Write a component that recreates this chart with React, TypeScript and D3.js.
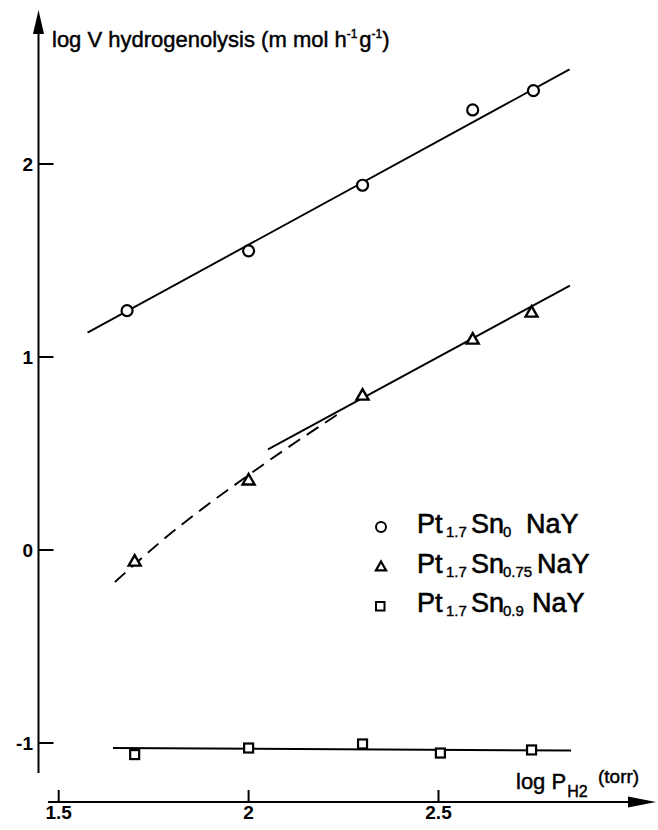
import React from 'react';
import * as d3 from 'd3';

const W = 658;
const H = 830;

// Axis ticks
const xTicks = [1.5, 2, 2.5];
const xTickLabels = ['1.5', '2', '2.5'];
const yTicks = [2, 1, 0, -1];
const yTickLabels = ['2', '1', '0', '-1'];

// Series: Pt1.7 Sn0 NaY (circles)
const sn0X = [1.68, 2.0, 2.3, 2.59, 2.75];
const sn0Y = [1.24, 1.55, 1.89, 2.28, 2.38];
// Series: Pt1.7 Sn0.75 NaY (triangles)
const sn075X = [1.7, 2.0, 2.3, 2.59, 2.745];
const sn075Y = [-0.06, 0.36, 0.8, 1.09, 1.23];
// Series: Pt1.7 Sn0.9 NaY (squares)
const sn09X = [1.7, 2.0, 2.3, 2.505, 2.745];
const sn09Y = [-1.06, -1.026, -1.005, -1.052, -1.036];

// Fitted lines
const sn0FitX = [1.576, 2.845];
const sn0FitY = [1.126, 2.49];
const sn075FitX = [2.051, 2.846];
const sn075FitY = [0.521, 1.37];
const sn075DashX = [1.648, 1.774, 2.011, 2.24];
const sn075DashY = [-0.166, 0.052, 0.404, 0.71];
const sn09FitX = [1.643, 2.849];
const sn09FitY = [-1.026, -1.039];

const FONT = '"Liberation Sans", Arial, Helvetica, sans-serif';

export default function App() {
  const x = d3.scaleLinear().domain([1.5, 2.5]).range([58.7, 438.5]);
  const y = d3.scaleLinear().domain([-1, 2]).range([743, 164]);

  const zip = (xs: number[], ys: number[]) => xs.map((v, i) => [v, ys[i]] as [number, number]);
  const line = d3.line<[number, number]>().x(d => x(d[0])).y(d => y(d[1]));
  const curve = d3.line<[number, number]>().x(d => x(d[0])).y(d => y(d[1])).curve(d3.curveMonotoneX);

  const axisX = 38.5;
  const axisY = 802;

  const tri = (cx: number, cy: number, s = 1) =>
    `M${cx},${cy - 6.5 * s}L${cx + 6 * s},${cy + 4 * s}L${cx - 6 * s},${cy + 4 * s}Z`;

  const legend = [
    { marker: 'circle', y: 533, parts: [
      { t: 'Pt', x: 417, sub: false }, { t: '1.7', x: 446, sub: true },
      { t: 'Sn', x: 471, sub: false }, { t: '0', x: 503, sub: true },
      { t: 'NaY', x: 526, sub: false }] },
    { marker: 'triangle', y: 573, parts: [
      { t: 'Pt', x: 417, sub: false }, { t: '1.7', x: 446, sub: true },
      { t: 'Sn', x: 471, sub: false }, { t: '0.75', x: 503, sub: true },
      { t: 'NaY', x: 537, sub: false }] },
    { marker: 'square', y: 612, parts: [
      { t: 'Pt', x: 417, sub: false }, { t: '1.7', x: 446, sub: true },
      { t: 'Sn', x: 471, sub: false }, { t: '0.9', x: 503, sub: true },
      { t: 'NaY', x: 532, sub: false }] },
  ];

  const heavy = { stroke: '#000', strokeWidth: 0.45 };

  return (
    <svg width={W} height={H} style={{ position: 'absolute', left: 0, top: 0, background: '#fff' }}
      fontFamily={FONT}>
      <rect x={0} y={0} width={W} height={H} fill="#fff" />
      {/* Y axis */}
      <line x1={axisX} y1={30} x2={axisX} y2={773} stroke="#000" strokeWidth={2} />
      <path d={`M${axisX},10L${axisX + 5.5},34L${axisX - 5.5},34Z`} fill="#000" />
      {yTicks.map((t, i) => (
        <g key={'yt' + i}>
          <line x1={axisX} x2={axisX + 15} y1={y(t)} y2={y(t)} stroke="#000" strokeWidth={2} />
          <text x={33} y={y(t) + 7} textAnchor="end" fontSize={19} fontWeight="bold">{yTickLabels[i]}</text>
        </g>
      ))}
      <text x={52} y={47} fontSize={22} {...heavy}>
        log V hydrogenolysis (m mol h
        <tspan fontSize={12} dy={-9}>-1</tspan>
        <tspan dy={9} dx={2}>g</tspan>
        <tspan fontSize={12} dy={-9}>-1</tspan>
        <tspan dy={9}>)</tspan>
      </text>

      {/* X axis */}
      <line x1={48} y1={axisY} x2={632} y2={axisY} stroke="#000" strokeWidth={2} />
      <path d={`M656,${axisY}L628,${axisY - 5.5}L628,${axisY + 5.5}Z`} fill="#000" />
      {xTicks.map((t, i) => (
        <g key={'xt' + i}>
          <line x1={x(t)} x2={x(t)} y1={axisY - 12} y2={axisY} stroke="#000" strokeWidth={2} />
          <text x={x(t)} y={818.5} textAnchor="middle" fontSize={19} fontWeight="bold">{xTickLabels[i]}</text>
        </g>
      ))}
      <text x={516} y={789} fontSize={22} {...heavy}>
        log P
        <tspan fontSize={16} dy={8} dx={1}>H2</tspan>
      </text>
      <text x={598} y={783} fontSize={19} {...heavy}>(torr)</text>

      {/* Fit lines */}
      <path d={line(zip(sn0FitX, sn0FitY)) || ''} fill="none" stroke="#000" strokeWidth={1.9} />
      <path d={line(zip(sn075FitX, sn075FitY)) || ''} fill="none" stroke="#000" strokeWidth={1.9} />
      <path d={curve(zip(sn075DashX, sn075DashY)) || ''} fill="none" stroke="#000" strokeWidth={1.9}
        strokeDasharray="14 8" />
      <path d={line(zip(sn09FitX, sn09FitY)) || ''} fill="none" stroke="#000" strokeWidth={1.9} />

      {/* Markers */}
      {zip(sn0X, sn0Y).map((d, i) => (
        <circle key={'c' + i} cx={x(d[0])} cy={y(d[1])} r={5.5} fill="#fff" stroke="#000" strokeWidth={2.2} />
      ))}
      {zip(sn075X, sn075Y).map((d, i) => (
        <path key={'t' + i} d={tri(x(d[0]), y(d[1]))} fill="#fff" stroke="#000" strokeWidth={2.4}
          strokeLinejoin="miter" />
      ))}
      {zip(sn09X, sn09Y).map((d, i) => (
        <rect key={'s' + i} x={x(d[0]) - 4.5} y={y(d[1]) - 4.5} width={9} height={9} fill="#fff"
          stroke="#000" strokeWidth={2.2} />
      ))}

      {/* Legend */}
      {legend.map((row, i) => (
        <g key={'lg' + i}>
          {row.marker === 'circle' && <circle cx={381} cy={row.y - 6} r={5} fill="#fff" stroke="#000" strokeWidth={2} />}
          {row.marker === 'triangle' && <path d={tri(381, row.y - 6, 0.85)} fill="#fff" stroke="#000" strokeWidth={2.2} />}
          {row.marker === 'square' && <rect x={376} y={row.y - 10} width={8.5} height={8.5} fill="#fff" stroke="#000" strokeWidth={2} />}
          {row.parts.map((p, j) => (
            <text key={j} x={p.x} y={p.sub ? row.y + 4 : row.y} fontSize={p.sub ? 15 : 27}
              stroke="#000" strokeWidth={p.sub ? 0.4 : 0.6}>{p.t}</text>
          ))}
        </g>
      ))}
    </svg>
  );
}
